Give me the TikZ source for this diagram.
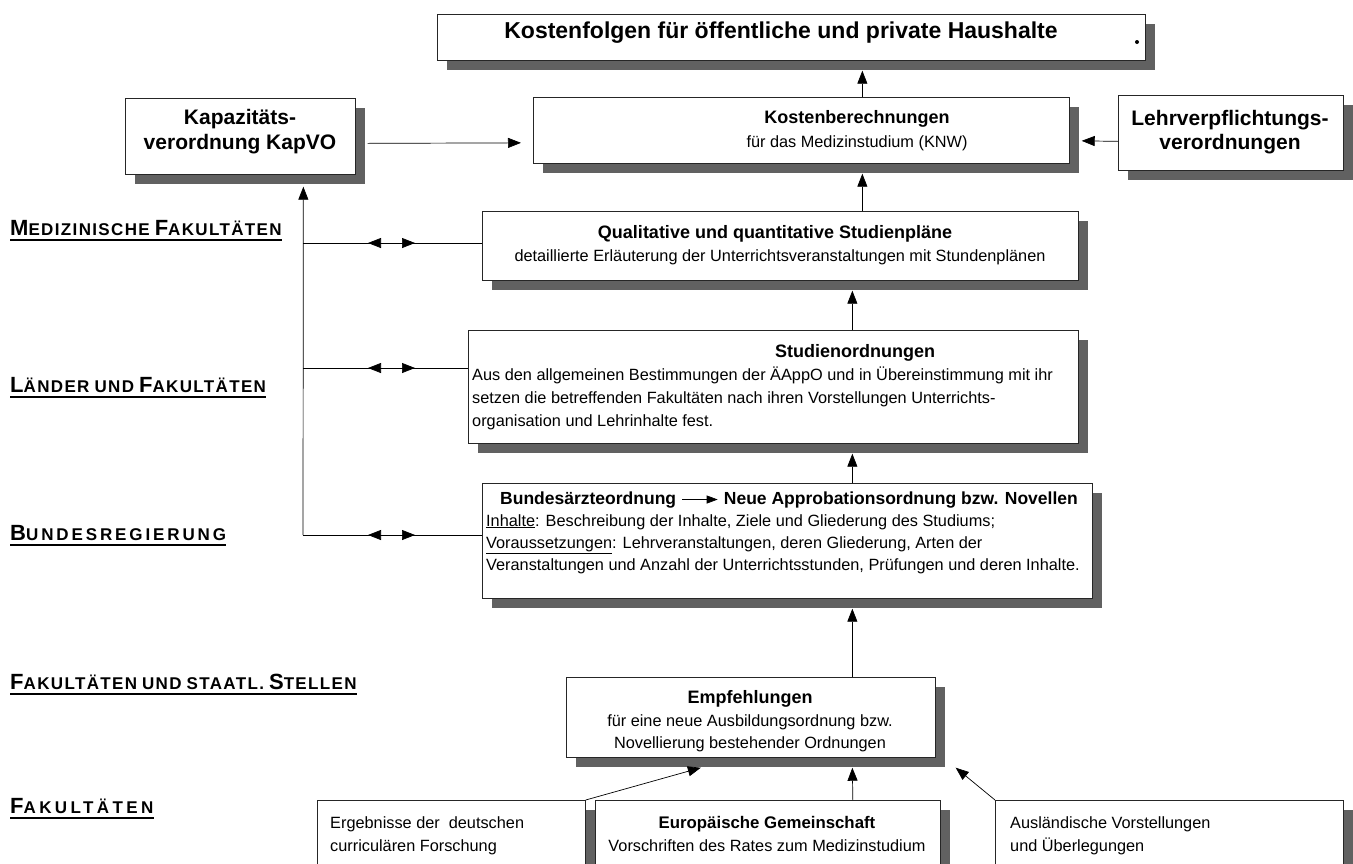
\documentclass[tikz,border=0pt]{standalone}
\usepackage{fontspec}
\setmainfont{Liberation Sans}
\newfontfamily\lblA[LetterSpace=8]{Liberation Sans}
\newfontfamily\lblB[LetterSpace=17]{Liberation Sans}
\newfontfamily\lblC[LetterSpace=20]{Liberation Sans}
\usetikzlibrary{arrows.meta,shadows}
\newcommand\Lb[1]{{\fontsize{22}{22}\selectfont #1}}
\newcommand\Ls[1]{{\fontsize{17}{17}\selectfont #1}}
\begin{document}
\begin{tikzpicture}[x=1pt,y=-1pt,
  box/.style={draw=black!85, line width=0.7pt, fill=white, inner sep=0pt, anchor=north west,
    drop shadow={shadow xshift=10pt, shadow yshift=-10pt, fill=black!62, opacity=1}},
  bt/.style={font=\fontsize{16.3}{20}\selectfont, inner sep=0pt},
  bb/.style={font=\fontsize{18}{22}\selectfont\bfseries, inner sep=0pt},
  bbx/.style={font=\fontsize{17.5}{22}\selectfont\bfseries, inner sep=0pt},
  bbk/.style={font=\fontsize{21}{24}\selectfont\bfseries, inner sep=0pt},
  bbig/.style={font=\fontsize{23}{26}\selectfont\bfseries, inner sep=0pt},
  bsm/.style={font=\fontsize{16.3}{20}\selectfont, inner sep=0pt},
  bsmb/.style={font=\fontsize{16.8}{20}\selectfont\bfseries, inner sep=0pt},
  tri/.style={-{Triangle[length=13pt,width=10pt]}, line width=0.7pt},
  stri/.style={-{Triangle[length=11pt,width=8pt]}, line width=0.7pt},
  dbl/.style={{Triangle[length=13pt,width=10pt]}-{Triangle[length=13pt,width=10pt]}, line width=0.7pt},
  conn/.style={line width=0.7pt},
  lbl/.style={anchor=base west, inner sep=0pt},
  uline/.style={line width=1.6pt}
]
\useasboundingbox[fill=white] (0,0) rectangle (1353,863);

% ---------- boxes ----------
\node[box, minimum width=708pt, minimum height=46pt] (top) at (437,14) {};
\node[box, minimum width=230pt, minimum height=76pt] (kap) at (125,98) {};
\node[box, minimum width=536pt, minimum height=66pt] (kost) at (533,97) {};
\node[box, minimum width=225pt, minimum height=75pt] (lehr) at (1118,95) {};
\node[box, minimum width=596pt, minimum height=69pt] (qual) at (482,211) {};
\node[box, minimum width=610pt, minimum height=113pt] (stud) at (468,330) {};
\node[box, minimum width=610pt, minimum height=115pt] (bund) at (482,483) {};
\node[box, minimum width=369pt, minimum height=80pt] (empf) at (566,677) {};
\node[box, minimum width=268pt, minimum height=90pt] (erg) at (317,800) {};
\node[box, minimum width=345pt, minimum height=90pt] (eg) at (595,800) {};
\node[box, minimum width=348pt, minimum height=90pt] (ausl) at (995,800) {};

% ---------- texts ----------
\node[bbig, anchor=base] (topT) at (781,38) {Kostenfolgen für öffentliche und private Haushalte};
\node[circle, fill=black, inner sep=0pt, minimum size=4pt] (dot) at (1137,42) {};

\node[bbk, anchor=base] (kapA) at (240,124) {Kapazitäts-};
\node[bbk, anchor=base] (kapB) at (240,149) {verordnung KapVO};

\node[bb, anchor=base] (kostA) at (857,123) {Kostenberechnungen};
\node[bt, anchor=base] (kostB) at (857,147) {für das Medizinstudium (KNW)};

\node[bbk, anchor=base] (lehrA) at (1230,125) {Lehrverpflichtungs-};
\node[bbk, anchor=base] (lehrB) at (1230,149) {verordnungen};

\node[bb, anchor=base] (qualA) at (775,238) {Qualitative und quantitative Studienpläne};
\node[bt, anchor=base] (qualB) at (780,261) {detaillierte Erläuterung der Unterrichtsveranstaltungen mit Stundenplänen};

\node[bb, anchor=base] (studA) at (855,357) {Studienordnungen};
\node[bt, anchor=base west] (studB) at (472,380) {Aus den allgemeinen Bestimmungen der ÄAppO und in Übereinstimmung mit ihr};
\node[bt, anchor=base west] (studC) at (472,403) {setzen die betreffenden Fakultäten nach ihren Vorstellungen Unterrichts-};
\node[bt, anchor=base west] (studD) at (472,426) {organisation und Lehrinhalte fest.};

\node[bbx, anchor=base west] (baeo) at (500,504) {Bundesärzteordnung};
\node[bbx, anchor=base east] (neue) at (1078,504) {Neue Approbationsordnung bzw. Novellen};
\node[bt, anchor=base west] (bundB) at (486,526) {\underline{Inhalte}: Beschreibung der Inhalte, Ziele und Gliederung des Studiums;};
\node[bt, anchor=base west] (bundC) at (486,548) {\underline{Voraussetzungen}: Lehrveranstaltungen, deren Gliederung, Arten der};
\node[bt, anchor=base west] (bundD) at (486,570) {Veranstaltungen und Anzahl der Unterrichtsstunden, Prüfungen und deren Inhalte.};

\node[bb, anchor=base] (empfA) at (750,703) {Empfehlungen};
\node[bt, anchor=base] (empfB) at (750,726) {für eine neue Ausbildungsordnung bzw.};
\node[bt, anchor=base] (empfC) at (750,748) {Novellierung bestehender Ordnungen};

\node[bsm, anchor=base west] (ergA) at (330,828) {Ergebnisse der\ \ deutschen};
\node[bsm, anchor=base west] (ergB) at (330,851) {curriculären Forschung};

\node[bsmb, anchor=base] (egA) at (767,828) {Europäische Gemeinschaft};
\node[bsm, anchor=base] (egB) at (767,851) {Vorschriften des Rates zum Medizinstudium};

\node[bsm, anchor=base west] (auslA) at (1010,828) {Ausländische Vorstellungen};
\node[bsm, anchor=base west] (auslB) at (1010,851) {und Überlegungen};

% ---------- left labels ----------
\node[lbl] (l1) at (10,235) {\lblA\bfseries\Lb{M}\Ls{EDIZINISCHE}\hspace{5pt}\Lb{F}\Ls{AKULTÄTEN}};
\node[lbl] (l2) at (10,392) {\lblA\bfseries\Lb{L}\Ls{ÄNDER}\hspace{5pt}\Ls{UND}\hspace{5pt}\Lb{F}\Ls{AKULTÄTEN}};
\node[lbl] (l3) at (10,540) {\lblB\bfseries\Lb{B}\Ls{UNDESREGIERUNG}};
\node[lbl] (l4) at (10,689) {\lblA\bfseries\Lb{F}\Ls{AKULTÄTEN}\hspace{5pt}\Ls{UND}\hspace{5pt}\Ls{STAATL.}\hspace{5pt}\Lb{S}\Ls{TELLEN}};
\node[lbl] (l5) at (10,813) {\lblC\bfseries\Lb{F}\Ls{AKULTÄTEN}};
\foreach \n in {l1,l2,l3,l4,l5}
  \draw[uline] ([yshift=-5pt]\n.base west) -- ([yshift=-5pt]\n.base east);

% ---------- vertical connectors ----------
\draw[tri] ([xshift=61pt]kost.north) -- ([xshift=71pt,yshift=-10pt]top.south);
\draw[tri] ([xshift=82pt]qual.north) -- ([xshift=61pt,yshift=-10pt]kost.south);
\draw[tri] ([xshift=79pt]stud.north) -- ([xshift=72pt,yshift=-10pt]qual.south);
\draw[tri] ([xshift=65pt]bund.north) -- ([xshift=79pt,yshift=-10pt]stud.south);
\draw[tri] ([xshift=101.5pt]empf.north) -- ([xshift=65pt,yshift=-10pt]bund.south);
\draw[tri] ([xshift=85pt]eg.north) -- ([xshift=101.5pt,yshift=-10pt]empf.south);
\draw[tri] (erg.north east) -- ([xshift=-50pt,yshift=-10pt]empf.south);
\draw[tri] (ausl.north west) -- ([xshift=20pt,yshift=-10pt]empf.south east);

% ---------- horizontal connectors ----------
\draw[tri] ([xshift=12pt,yshift=-7pt]kap.east) -- ([xshift=-12pt,yshift=-12.5pt]kost.west);
\draw[tri] ([yshift=-8.5pt]lehr.west) -- ([xshift=12pt,yshift=-10.5pt]kost.east);
\draw[stri] ([xshift=6pt]baeo.east) -- ([xshift=-6pt]neue.west);

% ---------- bus on the left ----------
\coordinate (m1) at (303,243);
\coordinate (m2) at (303,368);
\coordinate (m3) at (303,535);
\draw[tri] (m3) -- ([xshift=63pt,yshift=-12pt]kap.south);
\draw[conn] (m1) -- (m1 -| qual.west);
\draw[conn] (m2) -- (m2 -| stud.west);
\draw[conn] (m3) -- (m3 -| bund.west);
\foreach \m in {m1,m2,m3}
  \draw[dbl] ([xshift=65pt]\m) -- ([xshift=112pt]\m);
\end{tikzpicture}
\end{document}
